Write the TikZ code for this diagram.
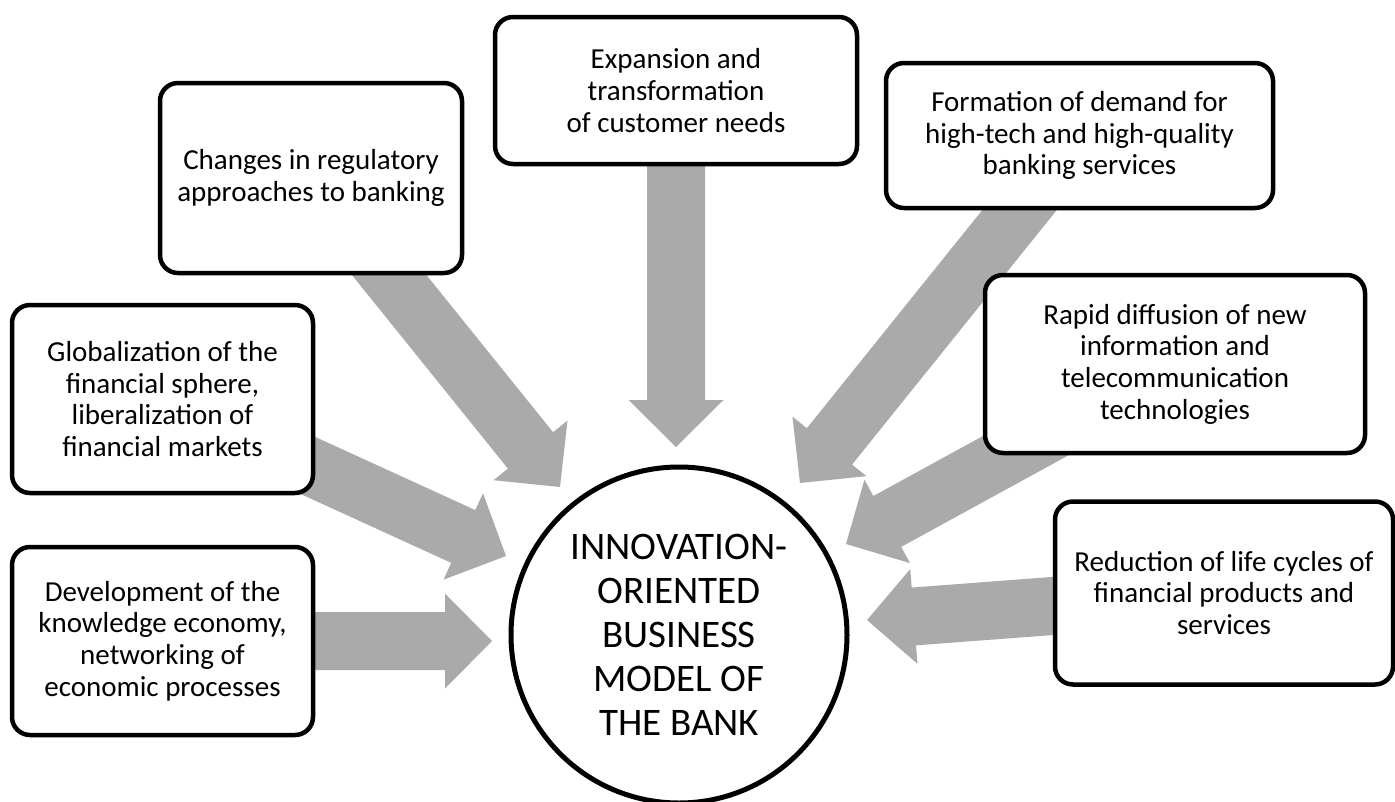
\documentclass[tikz,border=0pt]{standalone}
\usepackage{fontspec}
\setmainfont{Carlito}
\usetikzlibrary{calc}
\pgfdeclarelayer{bg}
\pgfsetlayers{bg,main}
\definecolor{arrowfill}{RGB}{170,170,170}
\newcommand\blockarrow[2]{%
  \path ($(#2)!47pt!(#1.center)$) coordinate (hb);
  \fill[arrowfill] ($(#1.center)!29pt!90:(#2)$) -- ($(hb)!29pt!-90:(#1.center)$) -- ($(hb)!47.5pt!-90:(#1.center)$) -- (#2) -- ($(hb)!47.5pt!90:(#1.center)$) -- ($(hb)!29pt!90:(#1.center)$) -- ($(#1.center)!29pt!-90:(#2)$) -- cycle;}
\tikzset{
  factor/.style={draw=black, line width=4.5pt, rounded corners=18pt, fill=white,
    inner sep=0pt, align=center, font=\fontsize{29}{31.7}\selectfont},
  core/.style={circle, draw=black, line width=5pt, fill=white, inner sep=0pt,
    minimum size=336pt, align=center, font=\fontsize{39}{44}\selectfont}
}
\begin{document}
\begin{tikzpicture}[x=1pt,y=-1pt]
\useasboundingbox (0,0) rectangle (1395,801);
% boxes
\node[factor, minimum width=302pt, minimum height=190pt] (chg) at (311,178) {Changes in regulatory\\approaches to banking};
\node[factor, minimum width=362pt, minimum height=147pt] (exp) at (676,90.5) {Expansion and\\transformation\\of customer needs};
\node[factor, minimum width=387pt, minimum height=145pt] (form) at (1079.5,135.5) {Formation of demand for\\high-tech and high-quality\\banking services};
\node[factor, minimum width=301pt, minimum height=188pt] (glob) at (162.5,399) {Globalization of the\\financial sphere,\\liberalization of\\financial markets};
\node[factor, minimum width=380pt, minimum height=178pt] (rapid) at (1175,364) {Rapid diffusion of new\\information and\\telecommunication\\technologies};
\node[factor, minimum width=301pt, minimum height=188pt] (dev) at (162.5,641) {Development of the\\knowledge economy,\\networking of\\economic processes};
\node[factor, minimum width=338pt, minimum height=183pt] (red) at (1224,593) {Reduction of life cycles of\\financial products and\\services};
\node[core] (bank) at (679,635) {INNOVATION-\\ORIENTED\\BUSINESS\\MODEL OF\\THE BANK};
% arrow tips
\coordinate (tchg) at (560,487);
\coordinate (texp) at (676,447);
\coordinate (tform) at (800,483);
\coordinate (tglob) at (506,556);
\coordinate (trapid) at (846,544);
\coordinate (tdev) at (492,641);
\coordinate (tred) at (867,620);
\begin{pgfonlayer}{bg}
\blockarrow{chg}{tchg}
\blockarrow{exp}{texp}
\blockarrow{form}{tform}
\blockarrow{glob}{tglob}
\blockarrow{rapid}{trapid}
\blockarrow{dev}{tdev}
\blockarrow{red}{tred}
\end{pgfonlayer}
\end{tikzpicture}
\end{document}
